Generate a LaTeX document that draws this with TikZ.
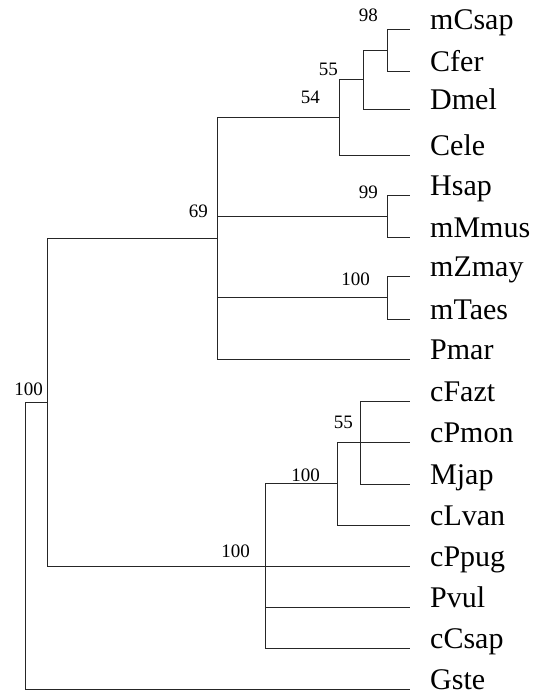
\documentclass[tikz,border=0pt]{standalone}
\usepackage{fontspec}
\setmainfont{Liberation Serif}
\begin{document}
\begin{tikzpicture}[x=1pt,y=-1pt,
  leaf/.style={anchor=base west,inner xsep=20pt,inner ysep=0pt,font=\fontsize{30}{36}\selectfont},
  boot/.style={anchor=base east,inner sep=0pt,font=\fontsize{19}{22}\selectfont},
  branch/.style={draw=black!85,line width=1pt}]
\useasboundingbox (0,0) rectangle (539,696);
% leaves
\node[leaf] (mCsap) at (410,29) {mCsap};
\node[leaf] (Cfer)  at (410,71) {Cfer};
\node[leaf] (Dmel)  at (410,109) {Dmel};
\node[leaf] (Cele)  at (410,155) {Cele};
\node[leaf] (Hsap)  at (410,195) {Hsap};
\node[leaf] (mMmus) at (410,237) {mMmus};
\node[leaf] (mZmay) at (410,276) {mZmay};
\node[leaf] (mTaes) at (410,319) {mTaes};
\node[leaf] (Pmar)  at (410,359) {Pmar};
\node[leaf] (cFazt) at (410,401) {cFazt};
\node[leaf] (cPmon) at (410,442.5) {cPmon};
\node[leaf] (Mjap)  at (410,484) {Mjap};
\node[leaf] (cLvan) at (410,525) {cLvan};
\node[leaf] (cPpug) at (410,566) {cPpug};
\node[leaf] (Pvul)  at (410,607) {Pvul};
\node[leaf] (cCsap) at (410,648) {cCsap};
\node[leaf] (Gste)  at (410,689) {Gste};
% internal nodes
\coordinate (n98)   at (387,50);
\coordinate (n55a)  at (363,79.5);
\coordinate (n54)   at (339,117.25);
\coordinate (n99)   at (387,216);
\coordinate (n100b) at (387,297.5);
\coordinate (n69)   at (217,238);
\coordinate (n55b)  at (360,442.5);
\coordinate (n100d) at (337,483.75);
\coordinate (n100c) at (265,566);
\coordinate (nA)    at (47,402);
\coordinate (root)  at (25,545.5);
% branches
\draw[branch] (n98) |- (mCsap.base west);
\draw[branch] (n98) |- (Cfer.base west);
\draw[branch] (n55a) |- (n98);
\draw[branch] (n55a) |- (Dmel.base west);
\draw[branch] (n54) |- (n55a);
\draw[branch] (n54) |- (Cele.base west);
\draw[branch] (n99) |- (Hsap.base west);
\draw[branch] (n99) |- (mMmus.base west);
\draw[branch] (n100b) |- (mZmay.base west);
\draw[branch] (n100b) |- (mTaes.base west);
\draw[branch] (n69) |- (n54);
\draw[branch] (n69) |- (n99);
\draw[branch] (n69) |- (n100b);
\draw[branch] (n69) |- (Pmar.base west);
\draw[branch] (n55b) |- (cFazt.base west);
\draw[branch] (n55b) -- (cPmon.base west);
\draw[branch] (n55b) |- (Mjap.base west);
\draw[branch] (n100d) |- (n55b);
\draw[branch] (n100d) |- (cLvan.base west);
\draw[branch] (n100c) |- (n100d);
\draw[branch] (n100c) -- (cPpug.base west);
\draw[branch] (n100c) |- (Pvul.base west);
\draw[branch] (n100c) |- (cCsap.base west);
\draw[branch] (nA) |- (n69);
\draw[branch] (nA) |- (n100c);
\draw[branch] (root) |- (nA);
\draw[branch] (root) |- (Gste.base west);
% bootstrap labels
\node[boot] (l98)   at (378,21)  {98};
\node[boot] (l55a)  at (338,75)  {55};
\node[boot] (l54)   at (320,103) {54};
\node[boot] (l69)   at (208,217) {69};
\node[boot] (l99)   at (378,198) {99};
\node[boot] (l100b) at (370,285) {100};
\node[boot] (l55b)  at (353,428) {55};
\node[boot] (l100d) at (320,481) {100};
\node[boot] (l100c) at (250,557) {100};
\node[boot] (lA)    at (43,395)  {100};
\end{tikzpicture}
\end{document}
